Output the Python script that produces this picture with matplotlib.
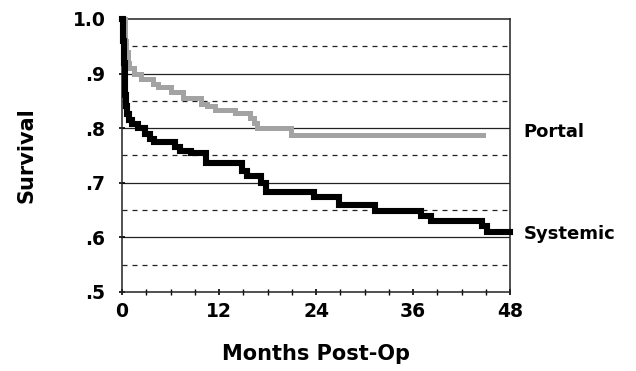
import matplotlib
matplotlib.use('Agg')
import matplotlib.pyplot as plt

plt.rcParams['font.family'] = ['DejaVu Sans']
plt.rcParams['font.weight'] = 'bold'

# courbes (mois, survie)
systemic_t = [0, 0.1, 0.2, 0.3, 0.4, 0.5, 0.6, 0.8, 1.2, 2.0, 2.8, 3.4, 4.0, 6.5, 7.2, 8.5,
              10.4, 14.8, 15.4, 17.2, 17.8, 23.8, 26.8, 31.3, 37.0, 38.2, 44.5, 45.2, 48]
systemic_s = [1.0, .96, .92, .88, .86, .84, .825, .815, .808, .80, .79, .78, .774, .766, .758, .754,
              .736, .722, .712, .70, .683, .674, .66, .648, .639, .63, .62, .61, .61]

portal_t = [0, 0.3, 0.5, 0.7, 0.9, 1.5, 2.3, 3.8, 4.5, 6.0, 7.5, 9.7, 10.5, 11.5, 14.0,
            15.8, 16.3, 16.7, 20.9, 44.7]
portal_s = [1.0, .96, .94, .92, .91, .90, .89, .88, .875, .866, .855, .845, .84, .834, .828,
            .818, .81, .80, .788, .788]

x_ticks = [0, 12, 24, 36, 48]
y_ticks = [.5, .6, .7, .8, .9, 1.0]
y_labels = ['.5', '.6', '.7', '.8', '.9', '1.0']
solid_grid = [.6, .7, .8, .9]
dashed_grid = [.55, .65, .75, .85, .95]

fig = plt.figure(figsize=(6.36, 3.71), dpi=100)
ax = fig.add_axes([0.192, 0.213, 0.610, 0.736])

for g in solid_grid:
	ax.axhline(g, color='#222222', lw=0.9, zorder=1)
for g in dashed_grid:
	ax.axhline(g, color='#222222', lw=0.9, ls=(0, (4, 4)), zorder=1)

ax.plot(portal_t, portal_s, drawstyle='steps-post', color='#a3a3a3', lw=3.6,
        solid_joinstyle='miter', clip_on=False, zorder=3)
ax.plot(systemic_t, systemic_s, drawstyle='steps-post', color='black', lw=4.4,
        solid_joinstyle='miter', clip_on=False, zorder=4)

ax.set_xlim(0, 48)
ax.set_ylim(.5, 1.0)
ax.set_xticks(x_ticks)
ax.set_xticks(range(0, 49, 3), minor=True)
ax.set_yticks(y_ticks)
ax.set_yticklabels(y_labels)
ax.tick_params(axis='both', labelsize=13.5, width=1.2, length=4, direction='inout')
ax.tick_params(axis='y', pad=10)
ax.tick_params(axis='x', pad=5)
ax.tick_params(axis='x', which='minor', length=4, width=1, direction='inout')
for lab in ax.get_xticklabels() + ax.get_yticklabels():
	lab.set_fontweight('bold')
for s in ax.spines.values():
	s.set_linewidth(1.1)
	s.set_color('#222222')

ax.set_xlabel('Months Post-Op', fontsize=15, fontweight='bold', labelpad=17)
ax.set_ylabel('Survival', fontsize=15, fontweight='bold', labelpad=26)

ax.text(1.034, .793, 'Portal', transform=ax.get_yaxis_transform(), fontsize=13,
        fontweight='bold', va='center', ha='left')
ax.text(1.034, .606, 'Systemic', transform=ax.get_yaxis_transform(), fontsize=13,
        fontweight='bold', va='center', ha='left')

fig.savefig('out.png', dpi=100)
